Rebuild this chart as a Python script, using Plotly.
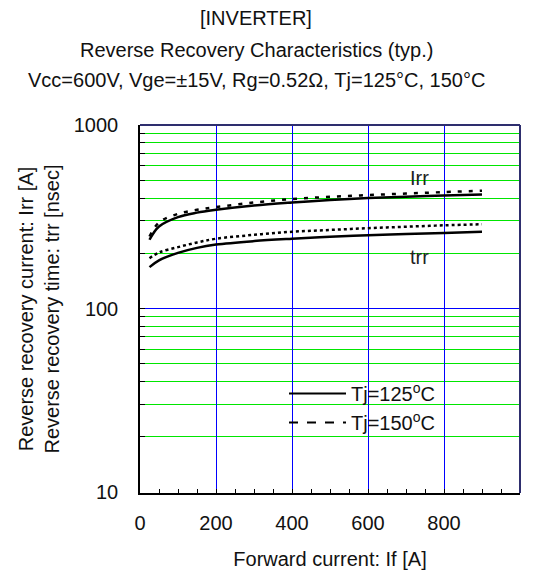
import math
import plotly.graph_objects as go

forward_current = [25, 50, 100, 150, 200, 300, 400, 500, 600, 700, 800, 900]
irr_125 = [237, 280, 315, 333, 345, 364, 378, 390, 400, 407, 413, 418]
irr_150 = [247, 294, 328, 345, 357, 378, 395, 406, 415, 423, 431, 438]
trr_125 = [168, 183, 201, 214, 223, 233, 240, 246, 251, 255, 258, 262]
trr_150 = [188, 202, 216, 229, 240, 252, 262, 268, 274, 279, 284, 288]

x_ticks = [0, 200, 400, 600, 800, 1000]
y_major = [10, 100, 1000]
y_minor = [m * d for d in (10, 100) for m in range(2, 10)]

label_irr = dict(x=735, y=515, text="Irr")
label_trr = dict(x=735, y=192, text="trr")

FONT = "Liberation Sans, Arial, sans-serif"
FS = 20
BLUE = "rgb(0,0,255)"
GREEN = "rgb(0,230,0)"

# the page body has an 8px margin; figure is sized to fit the window
OFF = 8
W, H = 536 - OFF, 575 - OFF
ML, MR, MT, MB = 140 - OFF, 16, 125 - OFF, 82
PW, PH = W - ML - MR, H - MT - MB
# tiny bottom extension so the 100 grid line is drawn crisp
YBOT_EXT = 1.0 / (PH / 2 - 0.5)

def px_x(p):  # page pixel -> paper
    return (p - OFF - ML) / PW

def px_y(p):
    return (H - MB - (p - OFF)) / PH

fig = go.Figure()
fig.add_trace(go.Scatter(x=forward_current, y=irr_125, mode="lines", line=dict(color="black", width=2.5, shape="spline"), showlegend=False))
fig.add_trace(go.Scatter(x=forward_current, y=trr_125, mode="lines", line=dict(color="black", width=2.5, shape="spline"), showlegend=False))
fig.add_trace(go.Scatter(x=forward_current, y=irr_150, mode="lines", line=dict(color="black", width=2.5, dash="4px,7px", shape="spline"), showlegend=False))
fig.add_trace(go.Scatter(x=forward_current, y=trr_150, mode="lines", line=dict(color="black", width=2.5, dash="3px,3px", shape="spline"), showlegend=False))
fig.add_trace(go.Scatter(x=[None], y=[None], mode="lines", name="Tj=125<sup>o</sup>C", line=dict(color="black", width=2)))
fig.add_trace(go.Scatter(x=[None], y=[None], mode="lines", name="Tj=150<sup>o</sup>C", line=dict(color="black", width=2, dash="dash")))

for lab in (label_irr, label_trr):
    fig.add_annotation(x=lab["x"], y=math.log10(lab["y"]), text=lab["text"], showarrow=False,
                       font=dict(size=FS, color="#222"))

titles = ["[INVERTER]", "Reverse Recovery Characteristics (typ.)", "Vcc=600V, Vge=±15V, Rg=0.52Ω, Tj=125°C, 150°C"]
title_y = [18, 50, 80]
for t, yy in zip(titles, title_y):
    fig.add_annotation(xref="paper", yref="paper", x=px_x(256), y=px_y(yy), text=t, showarrow=False,
                       xanchor="center", yanchor="middle", font=dict(size=FS, color="#111"))

# white areas behind the legend (hide grid lines there)
for (x0, x1, y0, y1) in [(242, 339, 377, 432), (353, 463, 377, 455)]:
    fig.add_shape(type="rect", xref="paper", yref="paper", x0=px_x(x0), x1=px_x(x1), y0=px_y(y1), y1=px_y(y0),
                  fillcolor="white", line=dict(width=0), layer="between")

# dark navy top and right frame
fig.add_shape(type="line", xref="paper", yref="paper", x0=0, x1=1, y0=1, y1=1, line=dict(color="#2e2e6e", width=2), layer="above")
fig.add_shape(type="line", xref="paper", yref="paper", x0=1, x1=1, y0=0, y1=1, line=dict(color="#2e2e6e", width=2), layer="above")

fig.update_layout(
    width=W, height=H,
    margin=dict(l=ML, r=MR, t=MT, b=MB),
    paper_bgcolor="white", plot_bgcolor="white",
    font=dict(family=FONT, size=FS, color="#111"),
    legend=dict(x=px_x(284), y=px_y(374), xanchor="left", yanchor="top", bgcolor="rgba(0,0,0,0)",
                borderwidth=0, font=dict(size=FS), itemwidth=57, tracegroupgap=0),
    xaxis=dict(range=[0, 1000], tickvals=x_ticks, showgrid=True, gridcolor=BLUE, gridwidth=1,
               showline=True, linecolor="black", linewidth=1.5, mirror=False,
               ticks="inside", ticklen=4, tickcolor="black", automargin=False,
               minor=dict(dtick=50, ticks="inside", ticklen=4, tickcolor="black", showgrid=False),
               ticklabelstandoff=11, zeroline=False,
               title=dict(text="Forward current: If [A]", standoff=19, font=dict(size=FS))),
    yaxis=dict(type="log", range=[1 - YBOT_EXT, 3], tickvals=y_major, ticktext=["10", "100", "1000"],
               showgrid=True, gridcolor=BLUE, gridwidth=1,
               showline=True, linecolor="black", linewidth=1.5, mirror=False,
               ticks="inside", ticklen=5, tickcolor="black", automargin=False,
               minor=dict(tickvals=y_minor, ticks="inside", ticklen=5, tickcolor="black",
                          showgrid=True, gridcolor=GREEN, gridwidth=1),
               ticklabelstandoff=16, zeroline=False,
               title=dict(text="Reverse recovery current: Irr [A]<br>Reverse recovery time: trr [nsec]", standoff=9, font=dict(size=FS))),
)

fig.write_html("out.html")
